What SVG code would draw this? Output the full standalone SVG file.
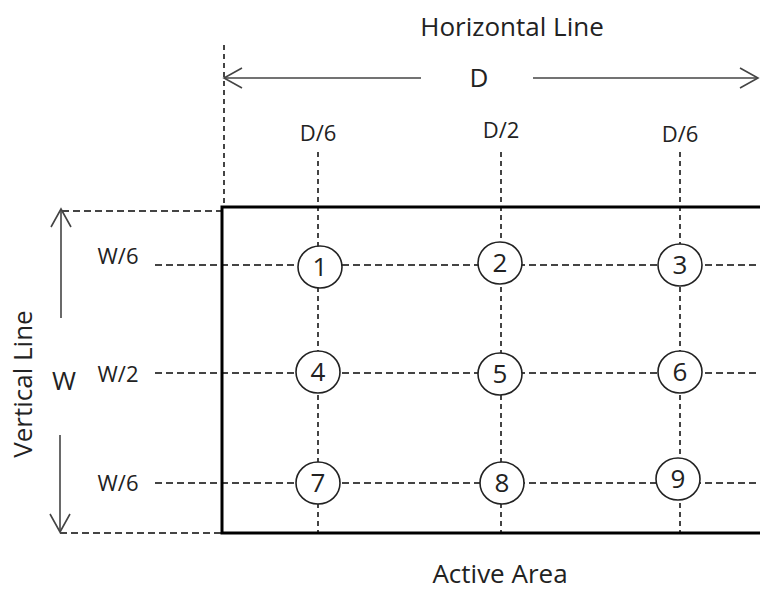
<svg xmlns="http://www.w3.org/2000/svg" width="760" height="590" viewBox="0 0 760 590">
<style>
.t{font-family:"Open Sans","Liberation Sans",sans-serif;fill:#222;}
.big{font-size:26px;}
.lab{font-size:22px;}
.num{font-size:26px;}
.dh{stroke:#444;stroke-width:2;stroke-dasharray:7 4;fill:none;}
.dv{stroke:#444;stroke-width:2;stroke-dasharray:5 4;fill:none;}
.ar{stroke:#444;stroke-width:1.6;fill:none;}
.node ellipse{fill:#fff;stroke:#222;stroke-width:1.6;}
</style>
<rect width="760" height="590" fill="#fff"/>
<g id="connectors">
<!-- reference lines -->
<line class="dv" x1="224" y1="45" x2="224" y2="207"/>
<line class="dh" x1="62" y1="211" x2="222" y2="211"/>
<line class="dh" x1="60" y1="533" x2="222" y2="533"/>
<!-- grid columns -->
<line class="dv" x1="318" y1="152" x2="318" y2="532"/>
<line class="dv" x1="501" y1="152" x2="501" y2="532"/>
<line class="dv" x1="680" y1="152" x2="680" y2="532"/>
<!-- grid rows -->
<line class="dh" x1="155" y1="265" x2="760" y2="265"/>
<line class="dh" x1="155" y1="373" x2="760" y2="373"/>
<line class="dh" x1="155" y1="483" x2="760" y2="483"/>
<!-- horizontal dimension arrow -->
<line class="ar" x1="224" y1="78" x2="421" y2="78"/>
<line class="ar" x1="533" y1="78" x2="758" y2="78"/>
<polyline class="ar" points="242,68 224,78 242,88"/>
<polyline class="ar" points="740,68 758,78 740,88"/>
<!-- vertical dimension arrow -->
<line class="ar" x1="61" y1="209" x2="61" y2="318"/>
<line class="ar" x1="60" y1="435" x2="60" y2="532"/>
<polyline class="ar" points="51,227 61,209 71,227"/>
<polyline class="ar" points="50,514 60,532 70,514"/>
</g>
<g id="active-area">
<rect x="222" y="207" width="560" height="326" fill="none" stroke="#000" stroke-width="3"/>
</g>
<g id="labels">
<text class="t big" x="512" y="36" text-anchor="middle">Horizontal Line</text>
<text class="t big" x="479" y="87" text-anchor="middle">D</text>
<text class="t lab" x="318" y="141" text-anchor="middle">D/6</text>
<text class="t lab" x="501" y="138" text-anchor="middle">D/2</text>
<text class="t lab" x="680" y="142" text-anchor="middle">D/6</text>
<text class="t lab" x="118" y="264" text-anchor="middle">W/6</text>
<text class="t lab" x="118" y="382" text-anchor="middle">W/2</text>
<text class="t lab" x="118" y="491" text-anchor="middle">W/6</text>
<text class="t big" x="64" y="390" text-anchor="middle">W</text>
<text class="t big" x="0" y="0" text-anchor="middle" transform="translate(32,384) rotate(-90)">Vertical Line</text>
<text class="t big" x="500" y="583" text-anchor="middle">Active Area</text>
</g>
<g id="node-1" class="node"><ellipse cx="320" cy="267" rx="22" ry="21"/><text class="t num" x="320" y="276" text-anchor="middle">1</text></g>
<g id="node-2" class="node"><ellipse cx="500" cy="263" rx="22" ry="21"/><text class="t num" x="500" y="272" text-anchor="middle">2</text></g>
<g id="node-3" class="node"><ellipse cx="680" cy="265" rx="22" ry="21"/><text class="t num" x="680" y="274" text-anchor="middle">3</text></g>
<g id="node-4" class="node"><ellipse cx="318" cy="372" rx="22" ry="21"/><text class="t num" x="318" y="381" text-anchor="middle">4</text></g>
<g id="node-5" class="node"><ellipse cx="500" cy="374" rx="22" ry="21"/><text class="t num" x="500" y="383" text-anchor="middle">5</text></g>
<g id="node-6" class="node"><ellipse cx="680" cy="372" rx="22" ry="21"/><text class="t num" x="680" y="381" text-anchor="middle">6</text></g>
<g id="node-7" class="node"><ellipse cx="318" cy="483" rx="22" ry="21"/><text class="t num" x="318" y="492" text-anchor="middle">7</text></g>
<g id="node-8" class="node"><ellipse cx="502" cy="483" rx="22" ry="21"/><text class="t num" x="502" y="492" text-anchor="middle">8</text></g>
<g id="node-9" class="node"><ellipse cx="678" cy="479" rx="22" ry="21"/><text class="t num" x="678" y="488" text-anchor="middle">9</text></g>
</svg>
